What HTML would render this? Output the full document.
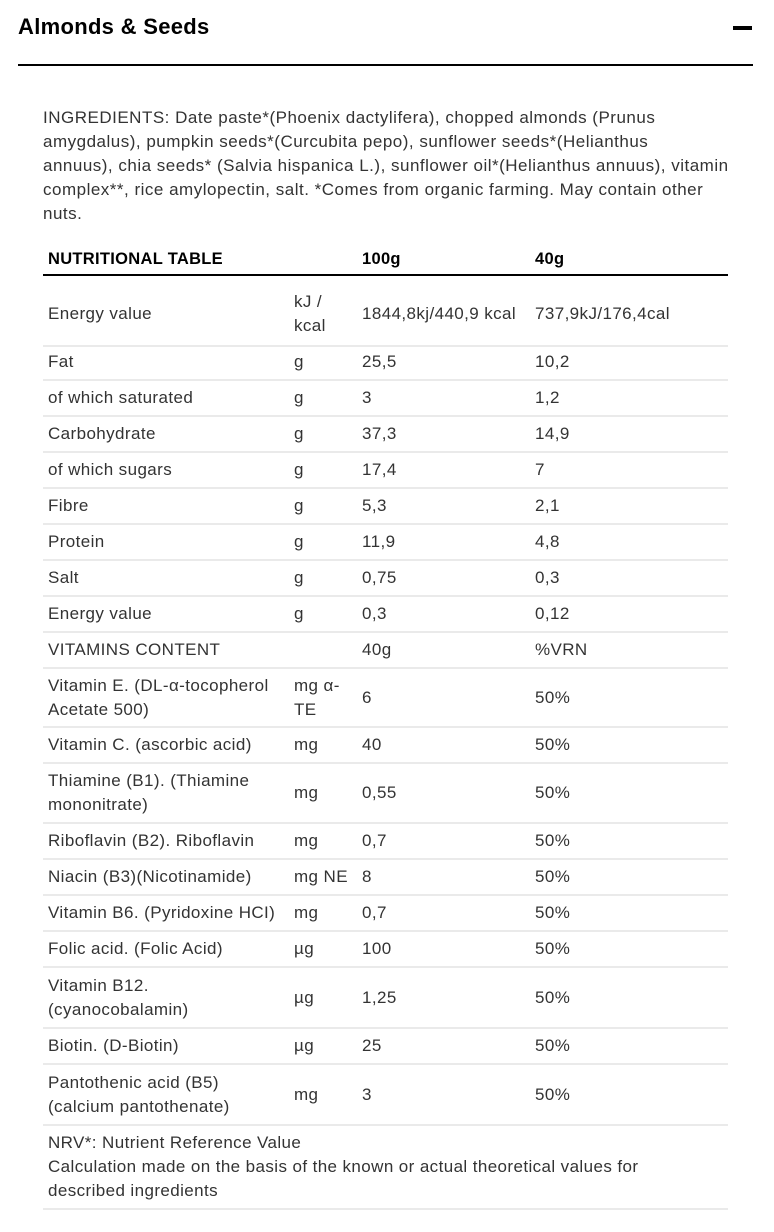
<!DOCTYPE html>
<html><head><meta charset="utf-8"><style>
*{margin:0;padding:0;box-sizing:border-box}
body{width:774px;height:1232px;background:#fff;position:relative;font-family:"Liberation Sans",Arial,sans-serif;color:#222;overflow:hidden}
.t{position:absolute;left:18px;top:14px;font-size:22px;font-weight:bold;color:#000;letter-spacing:0.3px}
.minus{position:absolute;left:733px;top:26px;width:19px;height:4px;background:#000}
.hr{position:absolute;left:18px;top:64px;width:735px;height:2px;background:#000}
.ing{position:absolute;left:43px;top:106px;font-size:17px;line-height:24px;color:#333;white-space:nowrap;letter-spacing:0.5px}
.r{position:absolute;left:43px;width:685px;border-bottom:2px solid #eaeaea;font-size:17px;line-height:24px;color:#333;letter-spacing:0.4px}
.r div{position:absolute;top:50%;transform:translateY(-50%);white-space:nowrap}
.a{left:5px}.u{left:251px}.b{left:319px}.c{left:492px}
.hd{border-bottom:2px solid #000;font-weight:bold;color:#000;font-size:16.5px;letter-spacing:0.3px}
</style></head><body>
<div class="t">Almonds &amp; Seeds</div>
<div class="minus"></div>
<div class="hr"></div>
<div class="ing">INGREDIENTS: Date paste*(Phoenix dactylifera), chopped almonds (Prunus<br>amygdalus), pumpkin seeds*(Curcubita pepo), sunflower seeds*(Helianthus<br>annuus), chia seeds* (Salvia hispanica L.), sunflower oil*(Helianthus annuus), vitamin<br>complex**, rice amylopectin, salt. *Comes from organic farming. May contain other<br>nuts.</div>

<div class="r hd" style="top:240px;height:36px"><div class="a" style="top:55%">NUTRITIONAL TABLE</div><div class="b" style="top:55%">100g</div><div class="c" style="top:55%">40g</div></div>
<div class="r" style="top:276px;height:71px;padding-top:4px"><div class="a" style="top:55%">Energy value</div><div class="u" style="top:55%">kJ /<br>kcal</div><div class="b" style="top:55%">1844,8kj/440,9 kcal</div><div class="c" style="top:55%">737,9kJ/176,4cal</div></div>
<div class="r" style="top:345px;height:36px"><div class="a">Fat</div><div class="u">g</div><div class="b">25,5</div><div class="c">10,2</div></div>
<div class="r" style="top:381px;height:36px"><div class="a">of which saturated</div><div class="u">g</div><div class="b">3</div><div class="c">1,2</div></div>
<div class="r" style="top:417px;height:36px"><div class="a">Carbohydrate</div><div class="u">g</div><div class="b">37,3</div><div class="c">14,9</div></div>
<div class="r" style="top:453px;height:36px"><div class="a">of which sugars</div><div class="u">g</div><div class="b">17,4</div><div class="c">7</div></div>
<div class="r" style="top:489px;height:36px"><div class="a">Fibre</div><div class="u">g</div><div class="b">5,3</div><div class="c">2,1</div></div>
<div class="r" style="top:525px;height:36px"><div class="a">Protein</div><div class="u">g</div><div class="b">11,9</div><div class="c">4,8</div></div>
<div class="r" style="top:561px;height:36px"><div class="a">Salt</div><div class="u">g</div><div class="b">0,75</div><div class="c">0,3</div></div>
<div class="r" style="top:597px;height:36px"><div class="a">Energy value</div><div class="u">g</div><div class="b">0,3</div><div class="c">0,12</div></div>
<div class="r" style="top:633px;height:36px"><div class="a">VITAMINS CONTENT</div><div class="b">40g</div><div class="c">%VRN</div></div>
<div class="r" style="top:669px;height:59px"><div class="a">Vitamin E. (DL-α-tocopherol<br>Acetate 500)</div><div class="u">mg α-<br>TE</div><div class="b">6</div><div class="c">50%</div></div>
<div class="r" style="top:728px;height:36px"><div class="a">Vitamin C. (ascorbic acid)</div><div class="u">mg</div><div class="b">40</div><div class="c">50%</div></div>
<div class="r" style="top:764px;height:60px"><div class="a">Thiamine (B1). (Thiamine<br>mononitrate)</div><div class="u">mg</div><div class="b">0,55</div><div class="c">50%</div></div>
<div class="r" style="top:824px;height:36px"><div class="a">Riboflavin (B2). Riboflavin</div><div class="u">mg</div><div class="b">0,7</div><div class="c">50%</div></div>
<div class="r" style="top:860px;height:36px"><div class="a">Niacin (B3)(Nicotinamide)</div><div class="u">mg NE</div><div class="b">8</div><div class="c">50%</div></div>
<div class="r" style="top:896px;height:36px"><div class="a">Vitamin B6. (Pyridoxine HCI)</div><div class="u">mg</div><div class="b">0,7</div><div class="c">50%</div></div>
<div class="r" style="top:932px;height:36px"><div class="a">Folic acid. (Folic Acid)</div><div class="u">µg</div><div class="b">100</div><div class="c">50%</div></div>
<div class="r" style="top:968px;height:61px"><div class="a">Vitamin B12.<br>(cyanocobalamin)</div><div class="u">µg</div><div class="b">1,25</div><div class="c">50%</div></div>
<div class="r" style="top:1029px;height:36px"><div class="a">Biotin. (D-Biotin)</div><div class="u">µg</div><div class="b">25</div><div class="c">50%</div></div>
<div class="r" style="top:1065px;height:61px"><div class="a">Pantothenic acid (B5)<br>(calcium pantothenate)</div><div class="u">mg</div><div class="b">3</div><div class="c">50%</div></div>
<div class="r" style="top:1126px;height:84px"><div class="a">NRV*: Nutrient Reference Value<br>Calculation made on the basis of the known or actual theoretical values for<br>described ingredients</div></div>
</body></html>
